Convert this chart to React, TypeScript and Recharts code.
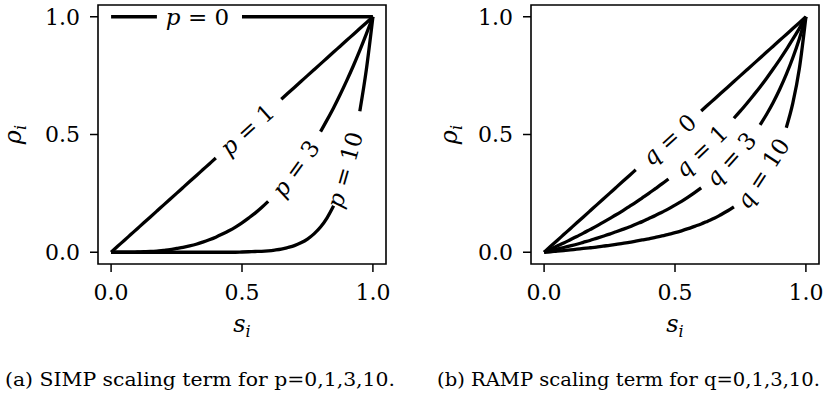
import { LineChart, Line, XAxis, YAxis, ReferenceArea, ReferenceDot } from "recharts"

// s_i sample positions shared by every curve
const sValues = [
  0, 0.025, 0.05, 0.075, 0.1, 0.125, 0.15, 0.175, 0.2, 0.225,
  0.25, 0.275, 0.3, 0.325, 0.35, 0.375, 0.4, 0.425, 0.45, 0.475,
  0.5, 0.525, 0.55, 0.575, 0.6, 0.625, 0.65, 0.675, 0.7, 0.725,
  0.75, 0.775, 0.8, 0.825, 0.85, 0.875, 0.9, 0.925, 0.95, 0.975,
  1,
]

// SIMP curves (null = gap where the inline label sits)
const simpP0 = [
  1, 1, 1, 1, 1, 1, 1, 1, null, null,
  null, null, null, null, null, null, null, null, null, null,
  1, 1, 1, 1, 1, 1, 1, 1, 1, 1,
  1, 1, 1, 1, 1, 1, 1, 1, 1, 1,
  1,
]
const simpP1 = [
  0, 0.025, 0.05, 0.075, 0.1, 0.125, 0.15, 0.175, 0.2, 0.225,
  0.25, 0.275, 0.3, 0.325, 0.35, 0.375, 0.4, null, null, null,
  null, null, null, null, null, null, 0.65, 0.675, 0.7, 0.725,
  0.75, 0.775, 0.8, 0.825, 0.85, 0.875, 0.9, 0.925, 0.95, 0.975,
  1,
]
const simpP3 = [
  0, 0, 0, 0, 0.001, 0.002, 0.003, 0.005, 0.008, 0.011,
  0.016, 0.021, 0.027, 0.034, 0.043, 0.053, 0.064, 0.077, 0.091, 0.107,
  0.125, 0.145, 0.166, 0.19, 0.216, null, null, null, null, null,
  null, null, 0.512, 0.562, 0.614, 0.67, 0.729, 0.791, 0.857, 0.927,
  1,
]
const simpP10 = [
  0, 0, 0, 0, 0, 0, 0, 0, 0, 0,
  0, 0, 0, 0, 0, 0, 0, 0, 0, 0,
  0.001, 0.002, 0.003, 0.004, 0.006, 0.009, 0.013, 0.02, 0.028, 0.04,
  0.056, 0.078, 0.107, 0.146, 0.197, null, null, null, 0.599, 0.776,
  1,
]

// RAMP curves
const rampQ0 = [
  0, 0.025, 0.05, 0.075, 0.1, 0.125, 0.15, 0.175, 0.2, 0.225,
  0.25, 0.275, 0.3, 0.325, 0.35, null, null, null, null, null,
  null, null, null, null, 0.6, 0.625, 0.65, 0.675, 0.7, 0.725,
  0.75, 0.775, 0.8, 0.825, 0.85, 0.875, 0.9, 0.925, 0.95, 0.975,
  1,
]
const rampQ1 = [
  0, 0.013, 0.026, 0.039, 0.053, 0.067, 0.081, 0.096, 0.111, 0.127,
  0.143, 0.159, 0.176, 0.194, 0.212, 0.231, 0.25, 0.27, 0.29, 0.311,
  null, null, null, null, null, null, null, null, null, 0.569,
  0.6, 0.633, 0.667, 0.702, 0.739, 0.778, 0.818, 0.86, 0.905, 0.951,
  1,
]
const rampQ3 = [
  0, 0.006, 0.013, 0.02, 0.027, 0.034, 0.042, 0.05, 0.059, 0.068,
  0.077, 0.087, 0.097, 0.107, 0.119, 0.13, 0.143, 0.156, 0.17, 0.184,
  0.2, 0.216, 0.234, 0.253, 0.273, null, null, null, null, null,
  null, null, null, 0.541, 0.586, 0.636, 0.692, 0.755, 0.826, 0.907,
  1,
]
const rampQ10 = [
  0, 0.002, 0.005, 0.007, 0.01, 0.013, 0.016, 0.019, 0.022, 0.026,
  0.029, 0.033, 0.038, 0.042, 0.047, 0.052, 0.057, 0.063, 0.069, 0.076,
  0.083, 0.091, 0.1, 0.11, 0.12, 0.132, 0.144, 0.159, 0.175, 0.193,
  null, null, null, null, null, null, null, 0.529, 0.633, 0.78,
  1,
]

const axisTicks = [0, 0.5, 1]
const simpParams = ["0", "1", "3", "10"]
const rampParams = ["0", "1", "3", "10"]
const captions = ["(a) SIMP scaling term for p=0,1,3,10.", "(b) RAMP scaling term for q=0,1,3,10."]

const simpData = sValues.map((s, i) => ({
  s,
  c0: simpP0[i],
  c1: simpP1[i],
  c2: simpP3[i],
  c3: simpP10[i],
}))

const rampData = sValues.map((s, i) => ({
  s,
  c0: rampQ0[i],
  c1: rampQ1[i],
  c2: rampQ3[i],
  c3: rampQ10[i],
}))

// where each inline label sits (data coords) and its rotation
const simpLabelSpots = [
  { s: 0.33, rho: 1, angle: 0 },
  { s: 0.52, rho: 0.52, angle: 42 },
  { s: 0.705, rho: 0.355, angle: 54 },
  { s: 0.893, rho: 0.35, angle: 74 },
]
const rampLabelSpots = [
  { s: 0.478, rho: 0.478, angle: 42 },
  { s: 0.6, rho: 0.43, angle: 44 },
  { s: 0.713, rho: 0.395, angle: 48 },
  { s: 0.835, rho: 0.335, angle: 57 },
]

const FONT = "'DejaVu Serif', serif"
const keys = ["c0", "c1", "c2", "c3"]

function AxisTitle(props: any) {
  const { viewBox, symbol, vertical, shift } = props
  const { x, y, width, height } = viewBox
  if (vertical) {
    const cx = x + shift
    const cy = y + height / 2
    return (
      <text x={cx} y={cy} textAnchor="middle" transform={`rotate(-90 ${cx} ${cy})`} fontFamily={FONT} fontSize={24} fill="#000">
        <tspan fontStyle="italic">{symbol}</tspan>
        <tspan fontStyle="italic" fontSize={16} dy={5}>i</tspan>
      </text>
    )
  }
  const cx = x + width / 2
  const cy = y + shift
  return (
    <text x={cx} y={cy} textAnchor="middle" fontFamily={FONT} fontSize={24} fill="#000">
      <tspan fontStyle="italic">{symbol}</tspan>
      <tspan fontStyle="italic" fontSize={16} dy={5}>i</tspan>
    </text>
  )
}

function inlineLabel(letter: string, value: string, angle: number) {
  return (props: any) => {
    const { cx, cy } = props
    return (
      <text
        x={cx}
        y={cy}
        textAnchor="middle"
        dominantBaseline="central"
        transform={`rotate(${-angle} ${cx} ${cy})`}
        fontFamily={FONT}
        fontSize={23}
        fill="#000"
      >
        <tspan fontStyle="italic">{letter}</tspan>
        {" = " + value}
      </text>
    )
  }
}

function Panel({ data, letter, params, spots, yAxisWidth, titleShift, rightMargin }: any) {
  const tickStyle = { fill: "#000", fontSize: 22, fontFamily: FONT }
  return (
    <LineChart width={yAxisWidth + 288 + rightMargin} height={350} data={data} margin={{ top: 5, right: rightMargin, bottom: 0, left: 0 }}>
      <XAxis
        dataKey="s"
        type="number"
        domain={[-0.05, 1.05]}
        ticks={axisTicks}
        tickFormatter={(v: number) => v.toFixed(1)}
        tick={tickStyle}
        tickLine={{ stroke: "#000", strokeWidth: 1.5 }}
        tickSize={8}
        tickMargin={12}
        axisLine={false}
        height={86}
        allowDataOverflow
        label={<AxisTitle symbol="s" shift={68} />}
      />
      <YAxis
        type="number"
        domain={[-0.05, 1.05]}
        ticks={axisTicks}
        tickFormatter={(v: number) => v.toFixed(1)}
        tick={tickStyle}
        tickLine={{ stroke: "#000", strokeWidth: 1.5 }}
        tickSize={8}
        tickMargin={10}
        axisLine={false}
        width={yAxisWidth}
        allowDataOverflow
        label={<AxisTitle symbol="ρ" vertical shift={titleShift} />}
      />
      <ReferenceArea x1={-0.05} x2={1.05} y1={-0.05} y2={1.05} fill="none" stroke="#000" strokeWidth={1.6} fillOpacity={0} />
      {keys.map((k) => (
        <Line
          key={k}
          dataKey={k}
          type="monotone"
          stroke="#000"
          strokeWidth={3.3}
          dot={false}
          activeDot={false}
          isAnimationActive={false}
        />
      ))}
      {spots.map((sp: any, i: number) => (
        <ReferenceDot key={i} x={sp.s} y={sp.rho} r={0} shape={inlineLabel(letter, params[i], sp.angle)} />
      ))}
    </LineChart>
  )
}

export default function App() {
  return (
    <div style={{ position: "absolute", left: 0, top: 0, width: 823, height: 401, background: "#fff" }}>
      <svg width={823} height={401} style={{ position: "absolute", left: 0, top: 0 }}>
        <text x={5} y={386} textLength={390} lengthAdjust="spacingAndGlyphs" fontFamily={FONT} fontSize={19} fill="#000">
          {captions[0]}
        </text>
        <text x={437} y={386} textLength={383} lengthAdjust="spacingAndGlyphs" fontFamily={FONT} fontSize={19} fill="#000">
          {captions[1]}
        </text>
      </svg>
      <div style={{ position: "absolute", left: 0, top: 0 }}>
        <Panel data={simpData} letter="p" params={simpParams} spots={simpLabelSpots} yAxisWidth={98} titleShift={21} rightMargin={25} />
      </div>
      <div style={{ position: "absolute", left: 411, top: 0 }}>
        <Panel data={rampData} letter="q" params={rampParams} spots={rampLabelSpots} yAxisWidth={120} titleShift={46} rightMargin={5} />
      </div>
    </div>
  )
}
